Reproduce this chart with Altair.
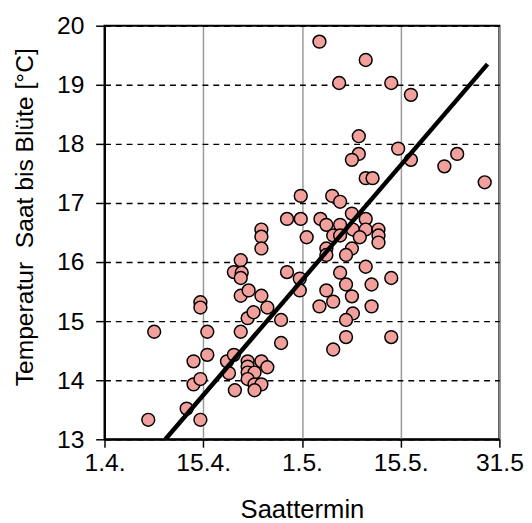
import altair as alt
import pandas as pd

# Sowing date as days after 1 April, temperature sowing -> flowering [°C]
sow_day = [
    6.65, 7.55, 12.48, 14.57, 13.53, 14.57, 13.53, 15.62, 15.62, 14.57,
    14.57, 18.61, 19.66, 18.91, 19.81, 21.75, 21.75, 21.75, 22.80, 21.75,
    23.84, 24.74, 22.80, 23.84, 22.80, 20.70, 21.75, 22.65, 24.74, 20.70,
    21.90, 23.84, 20.70, 19.66, 20.85, 20.70, 23.84, 23.84, 23.84, 26.83,
    26.83, 27.73, 29.67, 29.67, 29.82, 34.60, 35.80, 27.73, 29.82, 32.81,
    33.71, 35.80, 37.59, 39.69, 30.72, 34.75, 35.80, 37.74, 39.69, 38.79,
    41.63, 41.63, 41.63, 33.71, 33.71, 37.59, 36.70, 39.69, 35.80, 33.71,
    36.70, 40.58, 43.57, 34.75, 37.59, 32.66, 40.58, 37.74, 36.70, 36.70,
    43.57, 34.75, 32.66, 39.69, 35.65, 43.57, 46.56, 38.64, 38.64, 37.59,
    39.69, 40.73, 44.62, 46.56, 51.64, 53.59, 57.77,
]
temp = [
    13.33, 14.82, 13.52, 13.33, 13.93, 14.02, 14.32, 14.43, 14.82, 15.32,
    15.23, 14.32, 14.43, 14.12, 13.83, 14.32, 14.23, 14.13, 14.13, 14.02,
    14.32, 14.22, 13.93, 13.93, 13.83, 14.82, 15.05, 15.15, 15.23, 15.43,
    15.52, 15.43, 16.03, 15.83, 15.82, 15.73, 16.55, 16.43, 16.23, 15.02,
    14.63, 15.83, 15.72, 15.52, 17.12, 17.12, 17.02, 16.73, 16.73, 16.73,
    16.63, 16.63, 16.82, 16.73, 16.42, 16.45, 16.45, 16.55, 16.55, 16.42,
    16.55, 16.45, 16.33, 16.23, 16.12, 16.23, 16.12, 15.92, 15.82, 15.52,
    15.62, 15.62, 15.73, 15.33, 15.42, 15.25, 15.25, 15.13, 15.02, 14.73,
    14.73, 14.52, 19.73, 19.42, 19.03, 19.03, 18.83, 18.13, 17.83, 17.73,
    17.42, 17.42, 17.92, 17.73, 17.62, 17.83, 17.35,
]

# Linear trend line as drawn in the reference (start/end)
trend_x = [9.25, 58.2]
trend_y = [13.0, 19.35]

x_tick_values = [0, 15, 30, 45, 60]
x_tick_labels = ["1.4.", "15.4.", "1.5.", "15.5.", "31.5"]
y_tick_values = [13, 14, 15, 16, 17, 18, 19, 20]

df = pd.DataFrame({"Saattermin": sow_day, "Temperatur": temp})
df_trend = pd.DataFrame({"Saattermin": trend_x, "Temperatur": trend_y})

label_expr = " : ".join(
    f"datum.value == {v} ? '{l}'" for v, l in zip(x_tick_values, x_tick_labels)
) + " : ''"

FONT = "Liberation Sans"

x_scale = alt.Scale(domain=[0, 60], nice=False, zero=False)
y_scale = alt.Scale(domain=[13, 20], nice=False, zero=False)

x_enc = alt.X(
    "Saattermin:Q",
    title="Saattermin",
    scale=x_scale,
    axis=alt.Axis(
        values=x_tick_values,
        labelExpr=label_expr,
        grid=True,
        gridColor="#9a9a9a",
        gridWidth=1.5,
        labelFlush=False,
        tickSize=8,
        labelPadding=4,
        titlePadding=21,
        titleFontSize=26,
    ),
)
y_enc = alt.Y(
    "Temperatur:Q",
    title="Temperatur\u00a0 Saat bis Blüte [°C]",
    scale=y_scale,
    axis=alt.Axis(
        values=y_tick_values,
        format="d",
        grid=True,
        gridColor="black",
        gridDash=[6, 5],
        gridWidth=1.5,
        tickSize=9,
        labelPadding=12,
        titleFontSize=25,
        titleAngle=270,
        titleBaseline="alphabetic",
        titleAlign="center",
        titleX=-73,
        titleY=194,
    ),
)

points = alt.Chart(df).mark_circle(
    size=170, fill="#F2A09B", stroke="black", strokeWidth=1.5, opacity=1, fillOpacity=1
).encode(x=x_enc, y=y_enc)

trend = (
    alt.Chart(df_trend)
    .mark_line(color="black", strokeWidth=4.5, clip=True)
    .encode(x=alt.X("Saattermin:Q", scale=x_scale), y=alt.Y("Temperatur:Q", scale=y_scale))
)

chart = (
    alt.layer(points, trend)
    .properties(
        width=401,
        height=420,
        autosize=alt.AutoSizeParams(type="none"),
        padding={"left": 98, "top": 14, "right": 25, "bottom": 81},
        background="white",
    )
    .configure_view(stroke="black", strokeWidth=2)
    .configure_axis(
        labelFont=FONT,
        titleFont=FONT,
        labelFontSize=25,
        titleFontWeight="normal",
        labelColor="black",
        titleColor="black",
        domainColor="black",
        domainWidth=2,
        tickColor="black",
        tickWidth=1.5,
    )
)

chart.save("out.html", embed_options={"renderer": "svg", "actions": False})
